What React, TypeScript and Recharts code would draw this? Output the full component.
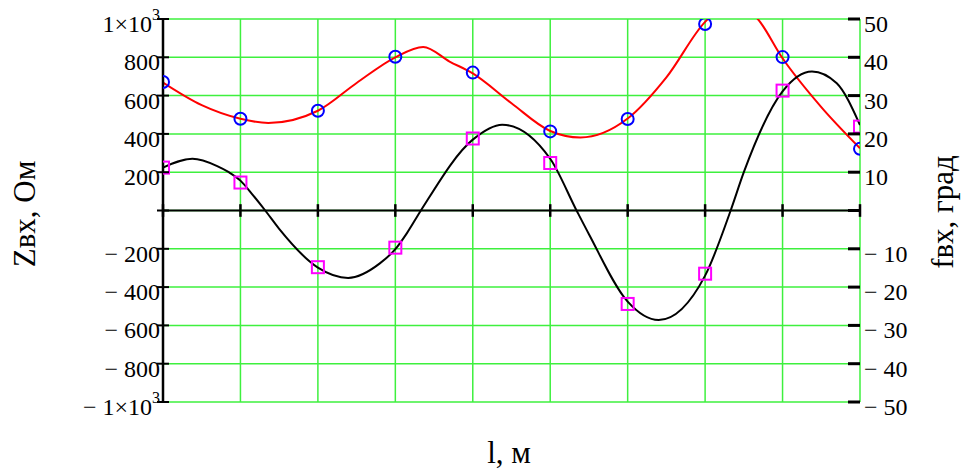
import React from 'react';
import { ComposedChart, Line, Scatter, XAxis, YAxis, CartesianGrid, ReferenceLine } from 'recharts';

// measurement points along the line, l
const lPoints = [0, 1, 2, 3, 4, 5, 6, 7, 8, 9];
// Zвх at the measurement points, Ом
const zPoints = [671, 479, 521, 803, 720, 413, 478, 974, 801, 322];
// fвх at the measurement points, град
const fPoints = [11.2, 7.3, -14.8, -9.7, 18.8, 12.4, -24.4, -16.5, 31.3, 21.9];

// calculated Zвх(l)
const zCurveL = [0, 0.5, 1, 1.36, 2, 2.5, 3, 3.36, 3.7, 4, 4.5, 5, 5.39, 6, 6.5, 7, 7.35, 7.68, 8, 8.5, 9];
const zCurve = [668, 550, 479, 457, 521, 666, 800, 854, 778, 716, 560, 415, 381, 480, 695, 985, 1090, 1000, 795, 540, 325];

// calculated fвх(l)
const fCurveL = [
  0, 0.38, 0.7, 0.85, 1, 1.15, 1.32, 1.5, 2, 2.39, 2.8, 3, 3.15, 3.33, 4, 4.38, 5, 5.34, 5.5, 6, 6.4, 7, 7.33, 7.5, 8,
  8.38, 8.7, 9,
];
const fCurve = [
  11.2, 13.5, 11.6, 10.0, 7.8, 4.3, 0, -4.8, -14.9, -17.6, -13.8, -10.1, -5.9, 0, 18.5, 22.4, 13.5, 0, -6.2, -23.8, -28.6,
  -17.0, 0, 10, 31.1, 36.3, 33.2, 22.3,
];

const zTicks = [-1000, -800, -600, -400, -200, 0, 200, 400, 600, 800, 1000];
const fTicks = [-50, -40, -30, -20, -10, 0, 10, 20, 30, 40, 50];

const FONT = "'Liberation Serif', 'Times New Roman', serif";
const GREEN = '#3ef03e';

const zMarks = lPoints.map((l, i) => ({ l, z: zPoints[i] }));
const fMarks = lPoints.map((l, i) => ({ l, f: fPoints[i] }));
const zLine = zCurveL.map((l, i) => ({ l, z: zCurve[i] }));
const fLine = fCurveL.map((l, i) => ({ l, f: fCurve[i] }));

const minus = '\u2212 ';

function ZTick({ x, y, payload }: any) {
  const v = payload.value as number;
  let label: React.ReactNode = null;
  if (Math.abs(v) === 1000) {
    label = (
      <>
        {v < 0 ? minus : ''}1×10
        <tspan dy={-12} fontSize={16}>3</tspan>
      </>
    );
  } else if (v !== 0) {
    label = (v < 0 ? minus : '') + Math.abs(v);
  }
  return (
    <g>
      <line x1={x - 6} x2={x + 6} y1={y} y2={y} stroke="#000" strokeWidth={2} />
      {label !== null && (
        <text x={x - 3} y={y + 13} textAnchor="end" fontFamily={FONT} fontSize={24} fill="#000">
          {label}
        </text>
      )}
    </g>
  );
}

function FTick({ x, y, payload }: any) {
  const v = payload.value as number;
  return (
    <g>
      <line x1={x - 12} x2={x} y1={y} y2={y} stroke="#000" strokeWidth={3} />
      {v !== 0 && (
        <text x={x + 4} y={y + 13} textAnchor="start" fontFamily={FONT} fontSize={24} fill="#000">
          {(v < 0 ? minus : '') + Math.abs(v)}
        </text>
      )}
    </g>
  );
}

const Ring = (p: any) => (
  <circle cx={p.cx} cy={p.cy} r={6} fill="none" stroke="#0000ff" strokeWidth={2} />
);
const Box = (p: any) => (
  <rect x={p.cx - 6} y={p.cy - 6} width={12} height={12} fill="none" stroke="#ff00ff" strokeWidth={2} />
);

export default function App() {
  return (
    <div style={{ position: 'absolute', left: 0, top: 0, width: 962, height: 472, background: '#fff' }}>
      <ComposedChart width={962} height={472} margin={{ top: 19, right: 0, bottom: 70, left: 0 }}>
        <XAxis
          dataKey="l"
          type="number"
          domain={[0, 9]}
          ticks={lPoints}
          allowDataOverflow
          height={0}
          tick={false}
          axisLine={false}
          tickLine={false}
        />
        <YAxis
          yAxisId="z"
          type="number"
          domain={[-1000, 1000]}
          ticks={zTicks}
          allowDataOverflow
          width={163}
          tickSize={0}
          tickMargin={0}
          tick={<ZTick />}
          tickLine={false}
          axisLine={{ stroke: '#000', strokeWidth: 2.5 }}
          interval={0}
        />
        <YAxis
          yAxisId="f"
          orientation="right"
          type="number"
          domain={[-50, 50]}
          ticks={fTicks}
          allowDataOverflow
          width={102}
          tickSize={0}
          tickMargin={0}
          tick={<FTick />}
          tickLine={false}
          axisLine={false}
          interval={0}
        />
        <CartesianGrid yAxisId="z" stroke={GREEN} strokeWidth={1.5} vertical={false} />
        {/* vertical grid at every measurement point */}
        {lPoints.map((l) => (
          <ReferenceLine key={'g' + l} yAxisId="z" x={l} stroke={GREEN} strokeWidth={1.5} />
        ))}
        <ReferenceLine yAxisId="z" y={0} stroke="#000" strokeWidth={2} />
        {lPoints.map((l) => (
          <ReferenceLine
            key={'t' + l}
            yAxisId="z"
            segment={[{ x: l, y: -33 }, { x: l, y: 33 }]}
            stroke="#000"
            strokeWidth={2.5}
          />
        ))}
        <Line
          yAxisId="z"
          data={zLine}
          dataKey="z"
          type="monotoneX"
          stroke="#ff0000"
          strokeWidth={2}
          dot={false}
          isAnimationActive={false}
        />
        <Line
          yAxisId="f"
          data={fLine}
          dataKey="f"
          type="monotoneX"
          stroke="#000"
          strokeWidth={2}
          dot={false}
          isAnimationActive={false}
        />
        <Scatter yAxisId="z" data={zMarks} dataKey="z" shape={<Ring />} isAnimationActive={false} />
        <Scatter yAxisId="f" data={fMarks} dataKey="f" shape={<Box />} isAnimationActive={false} />
      </ComposedChart>
      <svg width={962} height={472} style={{ position: 'absolute', left: 0, top: 0, pointerEvents: 'none' }}>
        <text
          x={24}
          y={214}
          transform="rotate(-90 24 214)"
          textAnchor="middle"
          dominantBaseline="central"
          fontFamily={FONT}
          fontSize={31}
          fill="#000"
        >
          Zвх, Ом
        </text>
        <text
          x={942}
          y={212}
          transform="rotate(-90 942 212)"
          textAnchor="middle"
          dominantBaseline="central"
          fontFamily={FONT}
          fontSize={31}
          fill="#000"
        >
          fвх, град
        </text>
        <text x={509} y={463} textAnchor="middle" fontFamily={FONT} fontSize={31} fill="#000">
          l, м
        </text>
      </svg>
    </div>
  );
}
